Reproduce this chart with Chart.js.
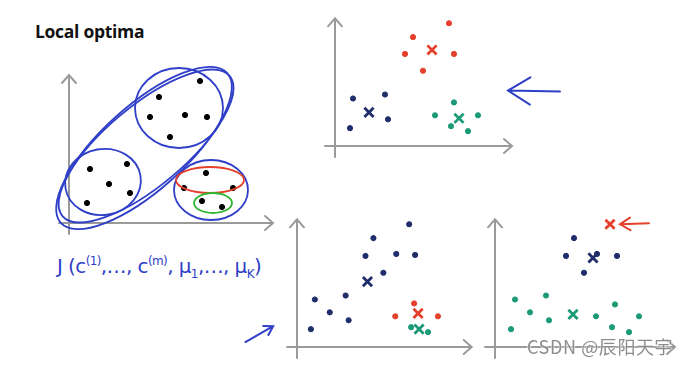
<!DOCTYPE html>
<html>
<head>
<meta charset="utf-8">
<script src="https://cdn.jsdelivr.net/npm/chart.js@4"></script>
<style>
  body { margin: 0; background: #fff; width: 693px; height: 365px; position: relative; overflow: hidden; }
  canvas { position: absolute; }
  #title { position: absolute; left: 35px; top: 19px; font: bold 17.5px "Open Sans", sans-serif; color: #111; letter-spacing: -0.3px; }
  #formula { position: absolute; left: 57px; top: 254px; font: 20px "DejaVu Sans", sans-serif; color: #2f3fc8; letter-spacing: -0.6px; }
  #formula sup { font-size: 12px; }
  #formula sub { font-size: 12px; }
  #mark { position: absolute; left: 527px; top: 333px; font: 18px "Noto Sans CJK SC", sans-serif; color: #8c8c8c; letter-spacing: 0.6px; text-shadow: 0 0 2px #fff, 0 0 2px #fff; }
</style>
</head>
<body>
<div id="title">Local optima</div>
<div id="formula">J (c<sup>(1)</sup>,…, c<sup>(m)</sup>, μ<sub>1</sub>,…, μ<sub>K</sub>)</div>

<script>
// data (units: one unit ~ 20px on every panel)
// left panel: unlabelled points
var leftPts = [[6.55, 7.1], [4.5, 6.3], [4.05, 5.3], [5.8, 5.4], [6.9, 5.3], [5.05, 4.3],
               [1.05, 2.7], [2.9, 2.95], [2.0, 1.95], [3.05, 1.5], [0.9, 1.0],
               [6.85, 2.5], [5.75, 1.75], [8.2, 1.75], [6.65, 1.1], [7.65, 0.8]];
// left panel: cluster outlines [cx, cy, rx, ry, rotation deg]
var leftBlueRings = [[3.75, 3.75, 5.6, 2.1, -42], [3.85, 3.85, 5.45, 2.0, -40],
                     [5.5, 5.75, 2.2, 2.0, 0], [1.7, 2.05, 1.9, 1.65, -10], [7.1, 1.65, 1.85, 1.5, 0]];
var leftRedRings = [[7.05, 2.15, 1.7, 0.65, 0]];
var leftGreenRings = [[7.2, 1.0, 0.95, 0.5, 0]];

// top right: good clustering
var topRed = [[5.7, 6.2], [3.9, 5.5], [3.5, 4.65], [5.95, 4.65], [4.4, 3.8]];
var topNavy = [[0.9, 2.4], [2.5, 2.6], [2.65, 1.35], [0.75, 0.9]];
var topGreen = [[5.95, 2.2], [5.0, 1.55], [7.15, 1.55], [5.8, 1.0], [6.65, 0.75]];
var topCentroids = { red: [4.85, 4.85], navy: [1.7, 1.7], green: [6.2, 1.4] };

// bottom middle: bad local optimum
var midNavy = [[5.65, 6.2], [3.85, 5.5], [3.45, 4.6], [5.0, 4.7], [5.95, 4.65], [4.35, 3.75],
               [0.9, 2.4], [2.45, 2.6], [1.65, 1.75], [2.6, 1.35], [0.7, 0.9]];
var midRed = [[5.9, 2.2], [4.95, 1.55], [7.1, 1.55]];
var midGreen = [[5.75, 1.0], [6.6, 0.75]];
var midCentroids = { navy: [3.55, 3.3], red: [6.1, 1.7], green: [6.15, 0.9] };

// bottom right: another bad local optimum
var rightNavy = [[3.95, 5.5], [3.55, 4.6], [5.1, 4.7], [6.1, 4.6], [4.45, 3.75]];
var rightGreen = [[1.0, 2.4], [2.55, 2.6], [1.75, 1.75], [2.7, 1.35], [0.8, 0.9],
                  [6.0, 2.15], [5.05, 1.55], [7.2, 1.55], [5.85, 1.0], [6.7, 0.75]];
var rightCentroids = { red: [5.75, 6.2], navy: [4.9, 4.5], green: [3.9, 1.65] };

var NAVY = '#1f2d6b', RED = '#e5402b', GREEN = '#1c9a78', INK = '#2f3fc8', AXIS = '#9a9a9a';
var PX = 20;

function xy(list) {
    return list.map(function (p) { return { x: p[0], y: p[1] }; });
}

function dots(list, color) {
    return { data: xy(list), backgroundColor: color, borderColor: color, pointRadius: 2.6, pointHoverRadius: 2.6, clip: false };
}

function cross(p, color) {
    return { data: xy([p]), borderColor: color, backgroundColor: color, pointStyle: 'crossRot', pointRadius: 6.5, pointHoverRadius: 6.5, borderWidth: 2.8, clip: false };
}

// gray axes with open arrow heads, crossing a bit past the origin
var axesPlugin = {
    id: 'axes',
    beforeDatasetsDraw: function (chart) {
        var a = chart.chartArea, ctx = chart.ctx;
        ctx.save();
        ctx.strokeStyle = AXIS;
        ctx.lineWidth = 2;
        ctx.lineCap = 'round';
        ctx.beginPath();
        ctx.moveTo(a.left, a.bottom + 11);
        ctx.lineTo(a.left, a.top);
        ctx.moveTo(a.left - 7, a.top + 8);
        ctx.lineTo(a.left, a.top);
        ctx.lineTo(a.left + 7, a.top + 8);
        ctx.moveTo(a.left - 10, a.bottom);
        ctx.lineTo(a.right, a.bottom);
        ctx.moveTo(a.right - 8, a.bottom - 7);
        ctx.lineTo(a.right, a.bottom);
        ctx.lineTo(a.right - 8, a.bottom + 7);
        ctx.stroke();
        ctx.restore();
    }
};

// hand drawn extras: rings and arrows, given in data units
var inkPlugin = {
    id: 'ink',
    afterDatasetsDraw: function (chart, args, opts) {
        var ctx = chart.ctx, xs = chart.scales.x, ys = chart.scales.y;
        ctx.save();
        ctx.lineCap = 'round';
        (opts.rings || []).forEach(function (g) {
            ctx.strokeStyle = g.color;
            ctx.lineWidth = 1.8;
            g.list.forEach(function (r) {
                var cx = xs.getPixelForValue(r[0]), cy = ys.getPixelForValue(r[1]);
                var rx = xs.getPixelForValue(r[0] + r[2]) - cx;
                var ry = cy - ys.getPixelForValue(r[1] + r[3]);
                ctx.beginPath();
                ctx.ellipse(cx, cy, rx, ry, r[4] * Math.PI / 180, 0, Math.PI * 2);
                ctx.stroke();
            });
        });
        (opts.arrows || []).forEach(function (ar) {
            var x1 = xs.getPixelForValue(ar.from[0]), y1 = ys.getPixelForValue(ar.from[1]);
            var x2 = xs.getPixelForValue(ar.to[0]), y2 = ys.getPixelForValue(ar.to[1]);
            var ang = Math.atan2(y2 - y1, x2 - x1), h = ar.head;
            ctx.strokeStyle = ar.color;
            ctx.lineWidth = 2;
            ctx.beginPath();
            ctx.moveTo(x1, y1);
            ctx.lineTo(x2, y2);
            ctx.moveTo(x2 - h * Math.cos(ang - 0.55), y2 - h * Math.sin(ang - 0.55));
            ctx.lineTo(x2, y2);
            ctx.lineTo(x2 - h * Math.cos(ang + 0.55), y2 - h * Math.sin(ang + 0.55));
            ctx.stroke();
        });
        ctx.restore();
    }
};

function panel(o) {
    var c = document.createElement('canvas');
    var w = o.pad[0] + o.xLen * PX + o.pad[1];
    var h = o.pad[2] + o.yLen * PX + o.pad[3];
    c.width = w;
    c.height = h;
    c.style.left = (o.origin[0] - o.pad[0]) + 'px';
    c.style.top = (o.origin[1] - o.yLen * PX - o.pad[2]) + 'px';
    document.body.appendChild(c);
    new Chart(c.getContext('2d'), {
        type: 'scatter',
        data: { datasets: o.datasets },
        options: {
            responsive: false,
            animation: false,
            events: [],
            layout: { padding: { left: o.pad[0], right: o.pad[1], top: o.pad[2], bottom: o.pad[3] } },
            scales: {
                x: { display: false, min: 0, max: o.xLen },
                y: { display: false, min: 0, max: o.yLen }
            },
            plugins: { legend: { display: false }, tooltip: { enabled: false }, ink: o.ink || {} }
        },
        plugins: [axesPlugin, inkPlugin]
    });
}

panel({
    origin: [69, 223], xLen: 10.2, yLen: 7.4, pad: [18, 6, 10, 16],
    datasets: [dots(leftPts, '#000')],
    ink: { rings: [{ color: INK, list: leftBlueRings }, { color: RED, list: leftRedRings }, { color: '#2fb52f', list: leftGreenRings }] }
});

panel({
    origin: [335, 146], xLen: 8.85, yLen: 6.45, pad: [14, 56, 8, 14],
    datasets: [dots(topRed, RED), dots(topNavy, NAVY), dots(topGreen, GREEN),
               cross(topCentroids.red, RED), cross(topCentroids.navy, NAVY), cross(topCentroids.green, GREEN)],
    ink: { arrows: [{ from: [11.25, 2.75], to: [8.65, 2.8], color: INK, head: 26 }] }
});

panel({
    origin: [297, 347], xLen: 8.8, yLen: 6.45, pad: [60, 8, 8, 14],
    datasets: [dots(midNavy, NAVY), dots(midRed, RED), dots(midGreen, GREEN),
               cross(midCentroids.navy, NAVY), cross(midCentroids.red, RED), cross(midCentroids.green, GREEN)],
    ink: { arrows: [{ from: [-2.6, 0.25], to: [-1.2, 1.05], color: INK, head: 10 }] }
});

panel({
    origin: [495, 347], xLen: 9.0, yLen: 6.45, pad: [14, 18, 8, 14],
    datasets: [dots(rightNavy, NAVY), dots(rightGreen, GREEN),
               cross(rightCentroids.red, RED), cross(rightCentroids.navy, NAVY), cross(rightCentroids.green, GREEN)],
    ink: { arrows: [{ from: [7.7, 6.25], to: [6.25, 6.2], color: RED, head: 12 }] }
});
</script>
<div id="mark">CSDN @辰阳天宇</div>
</body>
</html>
